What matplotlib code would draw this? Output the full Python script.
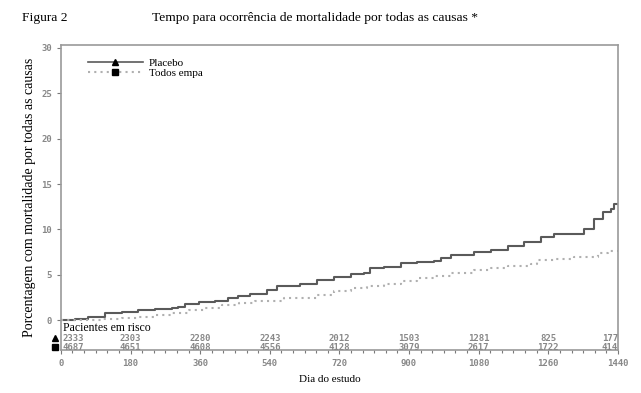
import matplotlib.pyplot as plt
from matplotlib.lines import Line2D
from matplotlib.ticker import MultipleLocator

# curvas de Kaplan-Meier
dias_placebo = [0, 36, 71, 114, 157, 200, 244, 287, 304, 321, 356, 399, 433, 459, 490,
                533, 559, 619, 662, 705, 749, 783, 800, 835, 878, 921, 965, 982, 1008,
                1068, 1111, 1155, 1198, 1241, 1275, 1318, 1353, 1379, 1401, 1422,
                1431, 1440]
placebo = [0, 0.1, 0.37, 0.74, 0.92, 1.1, 1.2, 1.4, 1.47, 1.76, 2.0, 2.1, 2.4, 2.7, 2.87,
           3.3, 3.75, 3.97, 4.4, 4.77, 5.04, 5.2, 5.7, 5.88, 6.25, 6.36, 6.54, 6.8, 7.17,
           7.53, 7.7, 8.2, 8.57, 9.2, 9.55, 9.55, 10.1, 11.1, 11.9, 12.3,
           12.8, 12.8]
dias_empa = [0, 60, 110, 157, 200, 244, 287, 330, 373, 416, 460, 503, 576, 662, 705,
             749, 792, 835, 878, 921, 965, 1008, 1068, 1111, 1155, 1215, 1232, 1280,
             1327, 1388, 1414, 1440]
empa = [0, 0.05, 0.15, 0.25, 0.4, 0.55, 0.8, 1.1, 1.35, 1.65, 1.9, 2.15, 2.4, 2.76, 3.2,
        3.5, 3.78, 4.04, 4.3, 4.7, 4.9, 5.15, 5.5, 5.7, 5.95, 6.17, 6.6, 6.75,
        6.98, 7.35, 7.6, 7.6]

dias_risco = [0, 180, 360, 540, 720, 900, 1080, 1260, 1440]
risco_placebo = [2333, 2303, 2280, 2243, 2012, 1503, 1281, 825, 177]
risco_empa = [4687, 4651, 4608, 4556, 4128, 3079, 2617, 1722, 414]

cor_placebo = '#5a5a5a'
cor_empa = '#b0b0b0'
cinza = '#7a7a7a'

fig = plt.figure(figsize=(6.41, 3.93), dpi=100)
ax = fig.add_axes([0.095, 0.109, 0.869, 0.776])

ax.step(dias_placebo, placebo, where='post', color=cor_placebo, lw=1.5)
ax.step(dias_empa, empa, where='post', color=cor_empa, lw=1.5, ls=(0, (1, 2)))

ax.set_xlim(0, 1440)
ax.set_ylim(-3.3, 30.3)
ax.set_yticks(range(0, 31, 5))
ax.set_xticks(dias_risco)
ax.xaxis.set_minor_locator(MultipleLocator(30))
ax.tick_params(axis='both', colors=cinza, labelsize=6.5, length=3, width=0.8)
ax.tick_params(axis='x', which='minor', colors=cinza, length=2, width=0.8)
for lab in ax.get_xticklabels() + ax.get_yticklabels():
    lab.set_family('DejaVu Sans Mono')
    lab.set_fontweight('bold')
    lab.set_color('#888888')
for s in ax.spines.values():
    s.set_color('#9a9a9a')
    s.set_linewidth(1.2)

# tabela de pacientes em risco
ax.text(5, -0.9, 'Pacientes em risco', family='Liberation Serif', fontsize=8.5,
        va='center', ha='left')
for i, d in enumerate(dias_risco):
    ha = 'center'
    if i == 0:
        ha = 'left'
    elif i == len(dias_risco) - 1:
        ha = 'right'
    ax.text(d + (3 if i == 0 else 0), -2.0, str(risco_placebo[i]), ha=ha, va='center',
            family='DejaVu Sans Mono', fontsize=6.5, fontweight='bold', color='#888888')
    ax.text(d + (3 if i == 0 else 0), -3.0, str(risco_empa[i]), ha=ha, va='center',
            family='DejaVu Sans Mono', fontsize=6.5, fontweight='bold', color='#888888')
ax.plot([-16], [-2.0], marker='^', color='black', ms=5, clip_on=False)
ax.plot([-16], [-3.0], marker='s', color='black', ms=5, clip_on=False)

handles = [Line2D([], [], color=cor_placebo, lw=1.2, marker='^', ms=4.5,
                  markerfacecolor='black', markeredgecolor='black'),
           Line2D([], [], color=cor_empa, lw=1.5, ls=(0, (1, 2)), marker='s', ms=4.5,
                  markerfacecolor='black', markeredgecolor='black')]
leg = ax.legend(handles, ['Placebo', 'Todos empa'], loc='upper left',
                bbox_to_anchor=(0.04, 0.972), frameon=False, handlelength=5.0,
                handletextpad=0.5, labelspacing=0.0, borderaxespad=0,
                prop={'family': 'Liberation Serif', 'size': 8})

fig.text(22 / 641, 1 - 18 / 393, 'Figura 2', family='Liberation Serif', fontsize=9.7,
         va='center')
fig.text(152 / 641, 1 - 18 / 393, 'Tempo para ocorrência de mortalidade por todas as causas *',
         family='Liberation Serif', fontsize=9.7, va='center')
fig.text(30 / 641, 1 - 197 / 393, 'Porcentagem com mortalidade por todas as causas',
         family='Liberation Serif', fontsize=10, rotation=90, va='center', ha='center')
fig.text(330 / 641, 1 - 380 / 393, 'Dia do estudo', family='Liberation Serif',
         fontsize=8, ha='center', va='center')

fig.savefig('out.png', dpi=100)
